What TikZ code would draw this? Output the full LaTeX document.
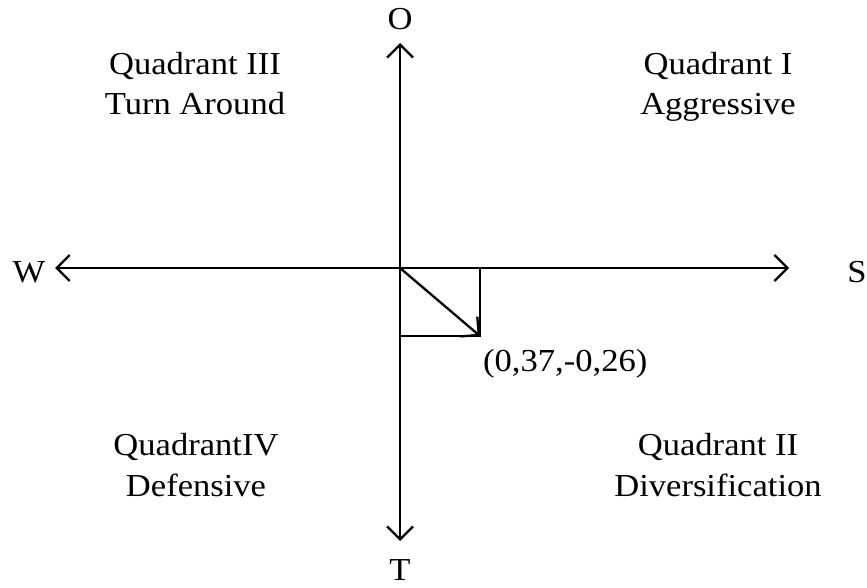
\documentclass[tikz,border=0pt]{standalone}
\usepackage{fontspec}
\setmainfont[FakeStretch=1.08]{Liberation Serif}
\usetikzlibrary{arrows.meta}
\tikzset{
  axis/.style={line width=2.3pt, -{Straight Barb[length=13pt,width=26pt,line width=2.3pt]}},
  guide/.style={line width=2.3pt},
  lbl/.style={font=\fontsize{32}{40}\selectfont, inner sep=0pt, anchor=base},
}
\begin{document}
\begin{tikzpicture}[x=1pt,y=-1pt]
\useasboundingbox (0,0) rectangle (867,588);
\coordinate (o) at (400,268);
\coordinate (n) at (400,43);
\coordinate (s) at (400,541);
\coordinate (w) at (55,268);
\coordinate (e) at (789,268);
\coordinate (p) at (480,336);
\coordinate (px) at (480,268);
\coordinate (py) at (400,336);
\draw[axis] (o) -- (n);
\draw[axis] (o) -- (s);
\draw[axis] (o) -- (w);
\draw[axis] (o) -- (e);
\draw[guide] (px) -- (p) -- (py);
\draw[axis] (o) -- (p);
\node[lbl] (lo) at (400,30) {O};
\node[lbl] (lt) at (400,580) {T};
\node[lbl] (lw) at (29,282) {W};
\node[lbl] (ls) at (857,282) {S};
\node[lbl] (q3a) at (195,75) {Quadrant III};
\node[lbl] (q3b) at (195,115) {Turn Around};
\node[lbl] (q1a) at (718,75) {Quadrant I};
\node[lbl] (q1b) at (718,115) {Aggressive};
\node[lbl] (q4a) at (196,455) {QuadrantIV};
\node[lbl] (q4b) at (196,496) {Defensive};
\node[lbl] (q2a) at (718,455) {Quadrant II};
\node[lbl] (q2b) at (718,496) {Diversification};
\node[lbl, anchor=base west] (pt) at (483,371) {(0,37,-0,26)};
\end{tikzpicture}
\end{document}
